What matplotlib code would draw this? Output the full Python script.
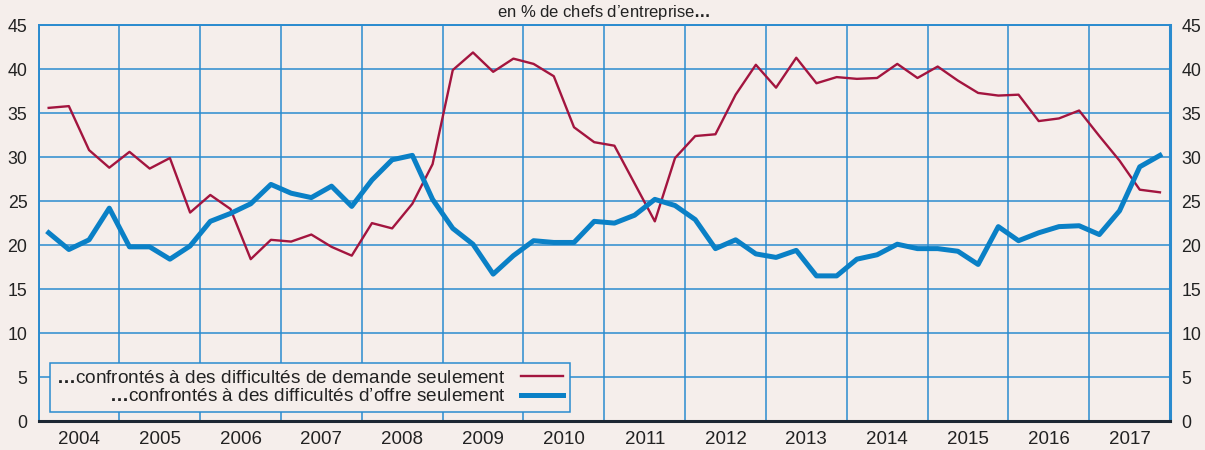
import numpy as np
import matplotlib.pyplot as plt
from matplotlib.ticker import MultipleLocator, FixedLocator

plt.rcParams['font.family'] = ['Liberation Sans', 'DejaVu Sans']
plt.rcParams['mathtext.fontset'] = 'custom'
plt.rcParams['mathtext.bf'] = 'Liberation Sans:bold'
plt.rcParams['mathtext.rm'] = 'Liberation Sans'

# quarterly data, 2004Q1 -> 2017Q4
demande = [35.6, 35.8, 30.8, 28.8, 30.6, 28.7, 29.9, 23.7,
           25.7, 24.1, 18.4, 20.6, 20.4, 21.2, 19.8, 18.8,
           22.5, 21.9, 24.7, 29.2, 39.9, 41.9, 39.7, 41.2,
           40.6, 39.2, 33.4, 31.7, 31.3, 27.0, 22.7, 29.9,
           32.4, 32.6, 37.1, 40.5, 37.9, 41.3, 38.4, 39.1,
           38.9, 39.0, 40.6, 39.0, 40.3, 38.7, 37.3, 37.0,
           37.1, 34.1, 34.4, 35.3, 32.4, 29.6, 26.3, 26.0]
offre = [21.4, 19.5, 20.6, 24.2, 19.8, 19.8, 18.4, 19.9,
         22.7, 23.6, 24.7, 26.9, 25.9, 25.4, 26.7, 24.4,
         27.4, 29.7, 30.2, 25.2, 21.9, 20.1, 16.7, 18.8,
         20.5, 20.3, 20.3, 22.7, 22.5, 23.4, 25.2, 24.5,
         22.9, 19.6, 20.6, 19.0, 18.6, 19.4, 16.5, 16.5,
         18.4, 18.9, 20.1, 19.6, 19.6, 19.3, 17.8, 22.1,
         20.5, 21.4, 22.1, 22.2, 21.2, 23.9, 28.9, 30.2]
annees = list(range(2004, 2018))
lab_demande = '$\\mathbf{…}$confrontés à des difficultés de demande seulement'
lab_offre = '$\\mathbf{…}$confrontés à des difficultés d’offre seulement'

t = 2004 + (np.arange(len(demande)) + 0.5) / 4

bg = '#f5eeeb'
bleu_grille = '#2a8bcf'
rouge = '#a3153f'
bleu = '#0a80c6'

fig = plt.figure(figsize=(12.05, 4.5), dpi=100, facecolor=bg)
ax = fig.add_axes([0.032, 0.0644, 0.939, 0.8796], facecolor=bg)

ax.plot(t, demande, color=rouge, lw=1.7, label=lab_demande, zorder=3)
ax.plot(t, offre, color=bleu, lw=3.6, label=lab_offre, zorder=3)

ax.set_xlim(2004, 2018)
ax.set_ylim(0, 45)
ax.yaxis.set_major_locator(MultipleLocator(5))
ax.xaxis.set_major_locator(FixedLocator([a + 0.5 for a in annees]))
ax.set_xticklabels([str(a) for a in annees])
ax.xaxis.set_minor_locator(FixedLocator(annees))
ax.tick_params(axis='x', which='both', length=0, labelsize=13.5, pad=7, colors='#222222')
ax.tick_params(axis='y', which='both', length=0, labelsize=12.8, pad=8,
               labelleft=True, labelright=True, colors='#222222')

ax.grid(axis='y', which='major', color=bleu_grille, lw=1.1)
ax.grid(axis='x', which='minor', color=bleu_grille, lw=1.1)
ax.set_axisbelow(True)

for s in ['left', 'top']:
    ax.spines[s].set_color(bleu_grille)
    ax.spines[s].set_linewidth(1.4)
ax.spines['right'].set_color(bleu_grille)
ax.spines['right'].set_linewidth(2.2)
ax.spines['bottom'].set_color('#1c2733')
ax.spines['bottom'].set_linewidth(2.2)

fig.text(0.5013, 0.972, 'en % de chefs d’entreprise$\\mathbf{…}$', ha='center', va='center',
         fontsize=12, color='#222222')

leg = ax.legend(loc='lower left', bbox_to_anchor=(0.0097, 0.0227), borderaxespad=0,
                markerfirst=False, fontsize=13.7, handlelength=2.2, handletextpad=0.8,
                labelspacing=0.05, borderpad=0.35, fancybox=False, framealpha=1,
                facecolor=bg, edgecolor=bleu_grille)
leg.get_frame().set_linewidth(1.1)
for txt in leg.get_texts():
    txt.set_color('#222222')

fig.savefig('out.png', dpi=100, facecolor=bg)
